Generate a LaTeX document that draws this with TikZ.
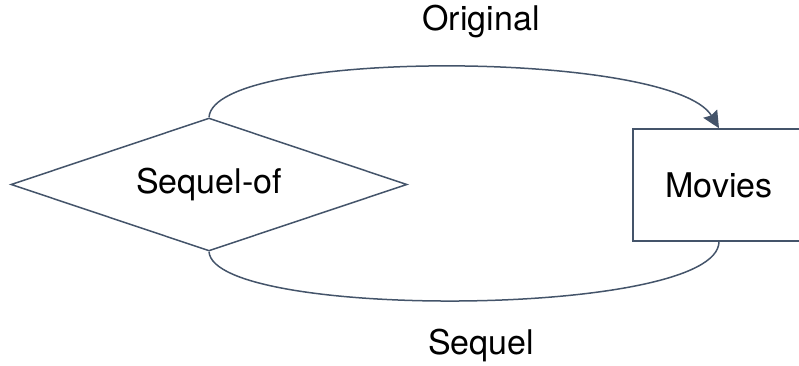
\documentclass[tikz,border=0pt]{standalone}
\usepackage{fontspec}
\setmainfont{TeX Gyre Heros}
\usepackage{xcolor}
\usetikzlibrary{arrows.meta,shapes.geometric}
\definecolor{erslate}{HTML}{44546A}
\tikzset{
  rel/.style={diamond, draw=erslate, line width=1.5pt, aspect=2.98, inner sep=0pt,
              minimum width=396pt, minimum height=133pt, font=\fontsize{34}{40}\selectfont},
  ent/.style={rectangle, draw=erslate, line width=1.5pt, inner sep=0pt,
              minimum width=172pt, minimum height=112pt, font=\fontsize{34}{40}\selectfont},
  role/.style={font=\fontsize{34}{40}\selectfont, inner sep=0pt},
  link/.style={draw=erslate, line width=1.5pt},
  linkto/.style={link, -{Stealth[length=17pt, width=16pt, inset=2pt]}},
}
\begin{document}
\begin{tikzpicture}[x=1pt, y=-1pt]
  \useasboundingbox (0,0) rectangle (799,366);
  \node[rel] (sequelof) at (209,184.5) {Sequel-of};
  \node[ent] (movies) at (719,185) {Movies};
  \node[role] (original) at (481,22) {Original};
  \node[role] (sequel) at (481,346) {Sequel};

  \draw[linkto] (sequelof.north) .. controls (214,48) and (672,50) .. (movies.north);
  \draw[link] (sequelof.south) .. controls (214,320) and (718,318) .. (movies.south);
\end{tikzpicture}
\end{document}
